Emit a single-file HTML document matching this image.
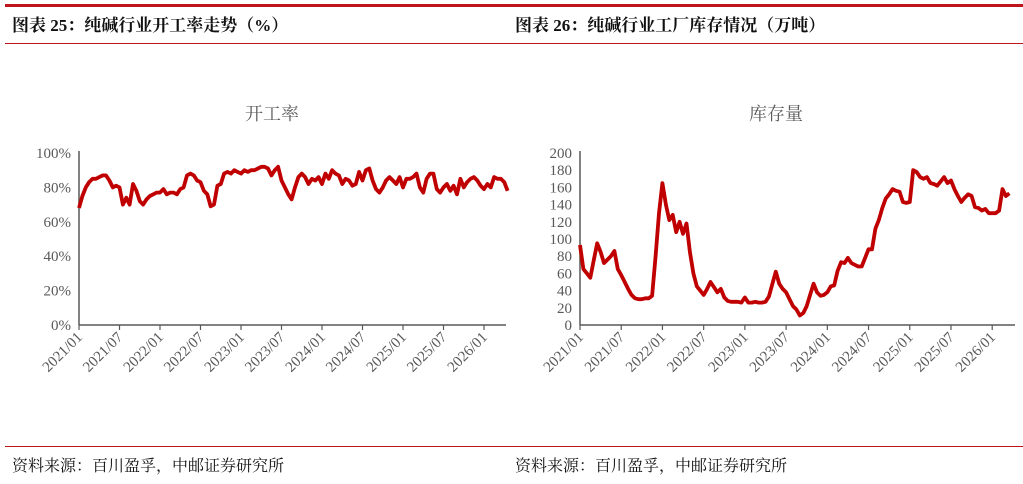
<!DOCTYPE html>
<html><head><meta charset="utf-8">
<style>
body{margin:0;width:1023px;height:484px;background:#fff;overflow:hidden;font-family:"Liberation Serif","Noto Serif CJK SC",serif;}
svg{position:absolute;left:0;top:0}
</style></head>
<body>
<svg id="s" width="1023" height="484">
<rect x="5" y="4" width="1018" height="3" fill="#c0141c"/>
<rect x="5" y="43" width="1018" height="1" fill="#c0141c"/>
<text x="12" y="31" font-size="17" font-weight="bold" fill="#111">图表 25：纯碱行业开工率走势（%）</text>
<text x="515" y="31" font-size="17" font-weight="bold" fill="#111">图表 26：纯碱行业工厂库存情况（万吨）</text>
<rect x="5" y="446" width="1018" height="1" fill="#c0141c"/>
<text x="12" y="471" font-size="16" fill="#111">资料来源：百川盈孚，中邮证券研究所</text>
<text x="515" y="471" font-size="16" fill="#111">资料来源：百川盈孚，中邮证券研究所</text>
<text x="272" y="120" font-size="18" fill="#595959" text-anchor="middle">开工率</text>
<text x="776" y="120" font-size="18" fill="#595959" text-anchor="middle">库存量</text>
<g id="c1"></g>
<g id="c2"></g>
</svg>
<script>
const xLabels=["2021/01","2021/07","2022/01","2022/07","2023/01","2023/07","2024/01","2024/07","2025/01","2025/07","2026/01"];
const rateTicks=[0,20,40,60,80,100];
const invTicks=[0,20,40,60,80,100,120,140,160,180,200];
const rateValues=[68,75,80,83,85,85,86,87,87,84,80,81,80,70,74,70,82,78,72,70,73,75,76,77,
77,79,76,77,77,76,79,80,87,88,87,84,83,78,76,69,70,81,82,88,89,88,90,89,
88,90,89,90,90,91,92,92,91,87,90,92,84,80,76,73,80,86,88,86,82,85,84,86,
82,88,85,90,88,87,82,85,84,81,82,89,84,90,91,84,79,77,80,84,86,84,82,86,
80,85,85,86,88,80,77,85,88,88,79,77,80,82,78,81,76,85,80,83,85,86,84,81,
79,82,80,86,85,85,83,78];
const invValues=[93,65,60,55,75,95,85,72,76,80,86,65,58,50,42,35,31,30,30,31,31,34,80,130,
165,140,122,128,108,120,106,118,85,60,45,40,35,42,50,44,38,42,32,28,27,27,27,26,
32,26,26,27,26,26,27,33,48,62,48,42,38,30,22,18,11,14,22,35,48,38,34,35,
38,45,46,63,73,72,78,72,70,68,68,78,88,88,112,122,136,147,152,158,156,155,143,142,
143,180,178,172,170,172,165,164,162,167,172,165,168,158,150,143,148,152,150,137,136,133,135,130,
130,130,133,158,150,153];
const NS="http://www.w3.org/2000/svg";
function el(tag,attrs,parent){const e=document.createElementNS(NS,tag);for(const k in attrs)e.setAttribute(k,attrs[k]);parent.appendChild(e);return e;}
function draw(g,cfg,ticks,vals,fmt,max,prefix){
  const yS=v=>cfg.y0-(v/max)*(cfg.y0-cfg.y1);
  const xS=m=>cfg.x0+m*cfg.pm;
  ticks.forEach(t=>{
    const tx=el('text',{x:cfg.x0-8,y:yS(t)+5,'font-size':15,fill:'#595959','text-anchor':'end'},g);
    tx.textContent=fmt(t);
    
    
  });
  const ax=el('line',{x1:cfg.x0,y1:cfg.y1-2,x2:cfg.x0,y2:cfg.y0,stroke:'#595959','stroke-width':1.5},g);
  
  
  const bx=el('line',{x1:cfg.x0,y1:cfg.y0,x2:cfg.xEnd,y2:cfg.y0,stroke:'#595959','stroke-width':1.5},g);
  
  
  xLabels.forEach((l,i)=>{
    const x=xS(i*6);
    const tk=el('line',{x1:x,y1:cfg.y0,x2:x,y2:cfg.y0+5,stroke:'#595959','stroke-width':1.2},g);
    
    
    const tx=el('text',{x:x+4,y:cfg.y0+13,'font-size':15,fill:'#595959','text-anchor':'end',transform:`rotate(-45 ${x+4} ${cfg.y0+13})`},g);
    tx.textContent=l;
    
    
  });
  const pts=vals.map((v,i)=>xS(i*0.5).toFixed(1)+','+yS(v).toFixed(1)).join(' ');
  const pl=el('polyline',{points:pts,fill:'none',stroke:'#c00000','stroke-width':3.8,'stroke-linejoin':'round'},g);
  
  
}
draw(document.getElementById('c1'),{x0:79,y0:325,y1:153,pm:6.75,xEnd:506},rateTicks,rateValues,t=>t+'%',100,'rate');
draw(document.getElementById('c2'),{x0:580,y0:325,y1:153,pm:6.87,xEnd:1015},invTicks,invValues,t=>''+t,200,'inventory');
</script>
</body></html>
